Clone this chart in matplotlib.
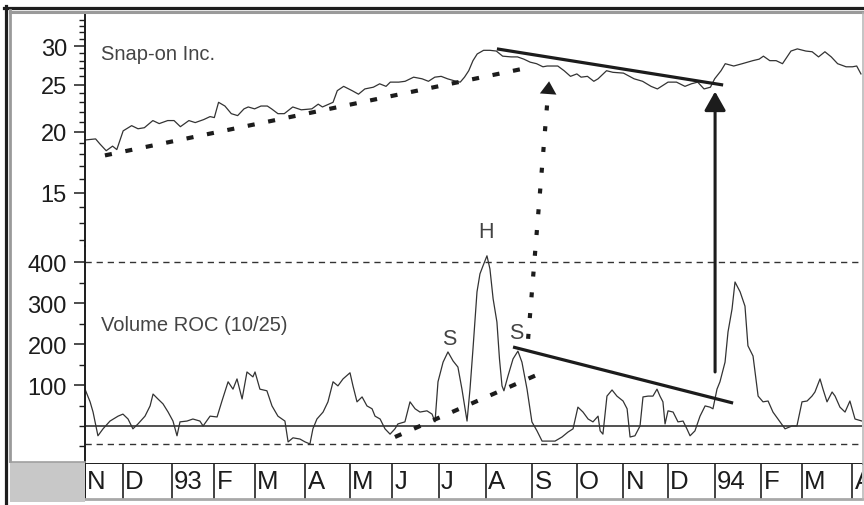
import matplotlib.pyplot as plt
from matplotlib.patches import ConnectionPatch, Rectangle
from matplotlib.lines import Line2D
from matplotlib.ticker import FixedLocator, NullFormatter, FuncFormatter

plt.rcParams['font.family'] = ['Liberation Sans', 'DejaVu Sans']

# ---- data (x = trading-day index from start of Nov 1992) ----
month_labels = ['N', 'D', '93', 'F', 'M', 'A', 'M', 'J', 'J', 'A', 'S', 'O',
                'N', 'D', '94', 'F', 'M', 'A']
month_pos = [0, 18, 41, 61, 80, 104, 125, 145, 167, 189, 211, 232, 254, 275,
             297, 319, 338, 362]

price_days = [0, 5, 7, 10, 13, 15, 18, 22, 25, 28,
              32, 35, 39, 42, 45, 49, 52, 56, 59, 61,
              63, 66, 69, 72, 75, 77, 80, 83, 86, 88,
              91, 94, 98, 102, 107, 110, 112, 115, 117, 119,
              122, 126, 129, 132, 136, 139, 142, 144, 148, 151,
              155, 159, 162, 165, 168, 171, 175, 177, 179, 181,
              183, 185, 188, 191, 194, 197, 201, 204, 207, 210,
              213, 216, 218, 223, 226, 229, 232, 234, 237, 240,
              242, 246, 249, 254, 259, 263, 267, 270, 275, 279,
              283, 286, 289, 292, 295, 297, 300, 302, 306, 310,
              315, 318, 320, 323, 326, 329, 333, 336, 340, 343,
              346, 349, 352, 355, 359, 362, 364, 366]
price = [19.25, 19.35, 18.9, 18.3, 18.7, 18.4, 20.1, 20.6, 20.3, 20.4,
         21.1, 20.8, 21.1, 21.1, 20.5, 21.1, 20.9, 21.2, 21.5, 21.4,
         23.0, 22.6, 21.8, 21.6, 22.3, 22.5, 22.3, 22.6, 22.6, 22.3,
         21.8, 21.8, 22.5, 22.2, 22.3, 22.8, 22.5, 22.8, 23.0, 24.3,
         24.8, 24.3, 23.9, 24.5, 24.7, 25.1, 24.8, 25.3, 25.3, 25.4,
         25.9, 25.7, 25.4, 25.9, 26.0, 25.7, 25.4, 25.3, 25.9, 26.7,
         28.0, 28.9, 29.4, 29.4, 29.3, 28.6, 28.5, 28.5, 28.2, 27.8,
         27.6, 27.2, 27.3, 27.3, 26.7, 26.0, 26.3, 25.9, 26.0, 25.4,
         25.7, 26.7, 26.5, 26.4, 25.7, 25.4, 24.8, 24.5, 25.3, 25.3,
         24.8, 25.1, 25.3, 24.5, 24.7, 25.7, 26.7, 27.6, 27.3, 27.6,
         28.0, 28.2, 28.6, 28.0, 28.0, 27.6, 29.3, 29.6, 29.3, 29.2,
         28.5, 29.2, 28.5, 27.6, 27.2, 27.2, 27.3, 26.3]

roc_days = [0, 2.4, 3.8, 6.1, 8.5, 11.8, 15.6, 17.9, 20.3, 22.6,
            25.0, 28.3, 30.7, 32.1, 34.4, 36.8, 39.2, 41.5, 43.4, 44.8,
            48.1, 50.9, 54.2, 55.7, 59.0, 62.3, 64.6, 67.5, 69.8, 71.7,
            74.1, 76.4, 79.2, 80.2, 82.5, 85.8, 88.2, 91.0, 94.3, 95.8,
            98.1, 101.4, 103.8, 106.1, 107.5, 109.4, 112.3, 114.6, 117.0, 119.3,
            121.7, 125.0, 126.4, 128.3, 130.7, 133.0, 135.4, 136.8, 139.2, 141.5,
            143.9, 146.2, 147.6, 150.9, 153.3, 155.7, 158.0, 161.3, 163.7, 165.1,
            166.5, 168.9, 171.2, 173.6, 175.9, 177.8, 180.2, 181.6, 183.0, 184.9,
            186.3, 187.7, 189.6, 191.0, 192.5, 194.3, 195.5, 196.7, 197.6, 199.5,
            201.9, 204.2, 206.1, 208.5, 210.8, 213.2, 215.6, 218.4, 221.7, 225.0,
            227.8, 230.2, 232.5, 234.9, 237.3, 239.6, 242.0, 243.0, 244.3, 246.2,
            248.6, 250.9, 253.8, 255.7, 257.1, 259.4, 261.8, 263.2, 265.6, 267.9,
            269.8, 271.2, 272.6, 273.6, 275.0, 277.4, 279.7, 282.1, 283.9, 285.4,
            287.7, 290.1, 292.5, 294.8, 296.2, 298.1, 299.5, 301.9, 303.3, 305.2,
            306.6, 309.0, 311.3, 312.7, 315.1, 317.5, 319.8, 322.2, 324.5, 327.8,
            330.2, 333.5, 335.8, 338.2, 340.6, 342.9, 344.3, 346.7, 348.1, 350.0,
            352.4, 353.8, 356.1, 358.5, 360.8, 363.2, 366.5]
roc = [90, 59, 34, -24, -7, 12, 24, 29, 17, -7,
       5, 24, 49, 78, 66, 54, 34, 12, -24, 10,
       12, 17, 12, 0, 24, 22, 61, 108, 90, 115,
       66, 132, 120, 132, 90, 86, 49, 24, 12, -39,
       -29, -32, -39, -44, -7, 17, 34, 59, 108, 98,
       115, 130, 98, 59, 71, 49, 42, 24, 17, -7,
       -20, -7, 5, 10, 59, 42, 34, 37, 29, 10,
       108, 156, 181, 159, 144, 90, 12, 90, 188, 328,
       372, 391, 416, 384, 311, 254, 164, 98, 86, 122,
       164, 183, 156, 90, 10, -12, -37, -37, -37, -27,
       -15, -7, 46, 34, 17, 10, 24, -12, -20, 73,
       88, 73, 61, 42, -27, -24, 0, 71, 73, 73,
       90, 73, 59, 5, 37, 34, 10, 12, -7, -24,
       -12, 24, 49, 46, 42, 90, 108, 156, 230, 286,
       352, 328, 293, 196, 171, 73, 59, 61, 34, 10,
       -7, 0, 0, 59, 61, 73, 83, 115, 90, 59,
       83, 73, 46, 34, 61, 17, 12]

roc_upper, roc_lower = 400, -45

# trendlines drawn on the chart (x, y pairs)
price_support = ([9.4, 207.5], [17.9, 27.0])
price_resist = ([194.3, 301.0], [29.6, 24.96])
roc_support = ([146.2, 213.2], [-27, 125])
roc_resist = ([201.9, 305.7], [193, 56])

INK = '#1c1c1c'
LINE = '#333333'
TXT = '#444444'

fig = plt.figure(figsize=(8.64, 5.06), dpi=100)
W, H = 864, 506


def box(x0, y0, x1, y1):
    return [x0 / W, 1 - y1 / H, (x1 - x0) / W, (y1 - y0) / H]


ax1 = fig.add_axes(box(85, 15, 862, 247))
ax2 = fig.add_axes(box(85, 247, 862, 465), sharex=ax1)
ax3 = fig.add_axes(box(85, 465, 862, 500), sharex=ax1)

# -------- upper panel: price (log) --------
ax1.set_yscale('log')
ax1.plot(price_days, price, color=LINE, lw=0.9)
ax1.set_ylim(11.67, 34.9)
ax1.yaxis.set_major_locator(FixedLocator([15, 20, 25, 30]))
ax1.yaxis.set_major_formatter(FuncFormatter(lambda v, p: f'{v:g}'))
ax1.yaxis.set_minor_locator(FixedLocator(list(range(12, 35))))
ax1.yaxis.set_minor_formatter(NullFormatter())
ax1.plot(*price_support, color=INK, lw=3, linestyle=(0, (1.7, 3.3)),
         solid_capstyle='butt', dash_capstyle='butt')
ax1.plot(*price_resist, color=INK, lw=2.3, solid_capstyle='butt')
ax1.text(0.021, 0.828, 'Snap-on Inc.', transform=ax1.transAxes, fontsize=14.5,
         color=TXT, va='center', ha='left')
ax1.text(189.2, 12.5, 'H', fontsize=15.5, color=TXT, ha='center', va='center')

# -------- lower panel: volume ROC --------
ax2.plot(roc_days, roc, color=LINE, lw=0.9)
ax2.set_ylim(-93, 440)
ax2.axhline(0, color=LINE, lw=1.2)
ax2.axhline(roc_upper, color=LINE, lw=1, linestyle=(0, (4.5, 3.5)))
ax2.axhline(roc_lower, color=LINE, lw=1, linestyle=(0, (4.5, 3.5)))
ax2.yaxis.set_major_locator(FixedLocator([100, 200, 300, 400]))
ax2.yaxis.set_minor_locator(FixedLocator([-50, 0, 50, 150, 250, 350, 450]))
ax2.plot(*roc_support, color=INK, lw=3, linestyle=(0, (1.7, 3.3)),
         dash_capstyle='butt')
ax2.plot(*roc_resist, color=INK, lw=2.3, solid_capstyle='butt')
ax2.text(0.021, 0.642, 'Volume ROC (10/25)', transform=ax2.transAxes,
         fontsize=14.5, color=TXT, va='center', ha='left')
ax2.text(171.9, 213, 'S', fontsize=15.5, color=TXT, ha='center', va='center')
ax2.text(203.5, 229, 'S', fontsize=15.5, color=TXT, ha='center', va='center')

for ax in (ax1, ax2):
    ax.set_facecolor('none')
    ax.spines[['top', 'right']].set_visible(False)
    ax.tick_params(axis='x', which='both', bottom=False, labelbottom=False)
    ax.tick_params(axis='y', which='major', length=8, width=1.1, pad=5,
                   labelsize=17, colors=INK)
    ax.tick_params(axis='y', which='minor', length=4.3, width=1.0, colors=INK)
    ax.spines['left'].set_color(INK)
    ax.spines['left'].set_linewidth(1.4)
ax1.spines['bottom'].set_visible(False)
ax2.spines['bottom'].set_color(INK)
ax2.spines['bottom'].set_linewidth(1.4)
ax1.set_xlim(0, 366.5)

# -------- month strip --------
ax3.set_ylim(0, 1)
ax3.vlines(month_pos, 0, 1, color=LINE, lw=1.3)
for pos, lab in zip(month_pos, month_labels):
    ax3.annotate(lab, (pos, 0.5), xytext=(1.5, 0), textcoords='offset points',
                 fontsize=18.5, color=INK, ha='left', va='center',
                 annotation_clip=False, clip_on=True)
ax3.spines[['top', 'right']].set_visible(False)
ax3.spines['left'].set_color(INK)
ax3.spines['left'].set_linewidth(1.4)
ax3.spines['bottom'].set_color('#a8a8a8')
ax3.spines['bottom'].set_linewidth(2)
ax3.set_yticks([])
ax3.tick_params(axis='x', which='both', bottom=False, labelbottom=False)

# -------- arrows linking indicator to price --------
dotted = ConnectionPatch(xyA=(209, 213), coordsA='data', axesA=ax2,
                         xyB=(218.4, 24.0), coordsB='data', axesB=ax1,
                         color=INK, lw=3, linestyle=(0, (1.2, 3.8)),
                         capstyle='butt')
fig.add_artist(dotted)
ax1.annotate('', xy=(218.9, 25.4), xytext=(218.3, 23.4),
             arrowprops=dict(arrowstyle='-|>,head_length=0.4,head_width=0.26',
                             mutation_scale=23, color=INK, lw=0,
                             shrinkA=0, shrinkB=0))
solid = ConnectionPatch(xyA=(297.2, 132), coordsA='data', axesA=ax2,
                        xyB=(297.2, 24.2), coordsB='data', axesB=ax1,
                        color=INK, lw=2.2,
                        arrowstyle='-|>,head_length=0.46,head_width=0.26',
                        mutation_scale=25, shrinkA=0, shrinkB=0)
fig.add_artist(solid)

# -------- window frame --------
def fline(xs, ys, **kw):
    fig.add_artist(Line2D([x / W for x in xs], [1 - y / H for y in ys],
                          transform=fig.transFigure, **kw))


fline([4, 864], [8.5, 8.5], color='#1e1e1e', lw=2.3)
fline([5.5, 5.5], [7, 506], color='#1e1e1e', lw=2.3)
fline([10, 864], [12.5, 12.5], color='#9a9a9a', lw=2.2)
fline([10, 10], [11, 462], color='#9a9a9a', lw=2.0)
fline([862.5, 862.5], [14, 500], color='#b4b4b4', lw=1.1)
fig.add_artist(Rectangle((10 / W, 1 - 503 / H), 75 / W, 40 / H,
                         transform=fig.transFigure, facecolor='#c8c8c8',
                         edgecolor='none'))
fline([10, 85], [462.5, 462.5], color='#a0a0a0', lw=1.2)

fig.savefig('out.png', dpi=100, facecolor='white')
